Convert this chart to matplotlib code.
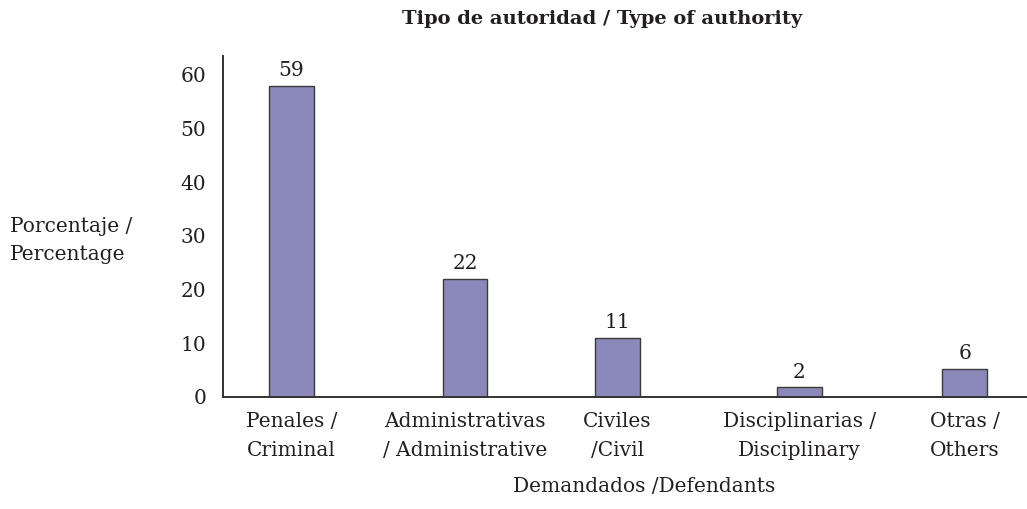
import matplotlib.pyplot as plt

categories = ["Penales /\nCriminal", "Administrativas\n/ Administrative", "Civiles\n/Civil",
              "Disciplinarias /\nDisciplinary", "Otras /\nOthers"]
bar_heights = [58, 22, 11, 1.8, 5.3]
value_labels = ["59", "22", "11", "2", "6"]
yticks = [0, 10, 20, 30, 40, 50, 60]

# category centres (bars are not evenly spaced in the source)
xpos = [0, 1.031, 1.935, 3.019, 4.0]

plt.rcParams['font.family'] = ['DejaVu Serif']
txt = '#231f20'

fig = plt.figure(figsize=(10.27, 5.09), dpi=100)
ax = fig.add_axes([223/1027, 1 - 397/509, 1 - 223/1027, (397 - 56)/509])

ax.bar(xpos, bar_heights, width=0.267, color='#8a89b9', edgecolor='#3a3a3a', linewidth=1.0)
for x, h, lab in zip(xpos, bar_heights, value_labels):
    ax.annotate(lab, (x, h), xytext=(0, 4), textcoords='offset points',
                ha='center', va='bottom', fontsize=14.5, color=txt)

ax.set_xlim(-0.407, 4.371)
ax.set_ylim(0, 63.5)
ax.set_yticks(yticks)
ax.set_yticklabels([str(t) for t in yticks], fontsize=14.5, color=txt)
ax.set_xticks(xpos)
ax.set_xticklabels(categories, fontsize=14.5, color=txt, linespacing=1.65)
ax.tick_params(axis='both', length=0)
ax.tick_params(axis='y', pad=12)
ax.tick_params(axis='x', pad=11)

for s in ['top', 'right']:
    ax.spines[s].set_visible(False)
for s in ['left', 'bottom']:
    ax.spines[s].set_color('#333333')
    ax.spines[s].set_linewidth(1.4)

fig.text(10/1027, 1 - 240/509, "Porcentaje /\nPercentage", ha='left', va='center',
         fontsize=14.5, color=txt, linespacing=1.6)
fig.text(644/1027, 1 - 487/509, "Demandados /Defendants", ha='center', va='center',
         fontsize=14.5, color=txt)
fig.text(602/1027, 1 - 19/509, "Tipo de autoridad / Type of authority", ha='center', va='center',
         fontsize=14, fontweight='bold', color=txt)

fig.savefig("out.png", dpi=100)
